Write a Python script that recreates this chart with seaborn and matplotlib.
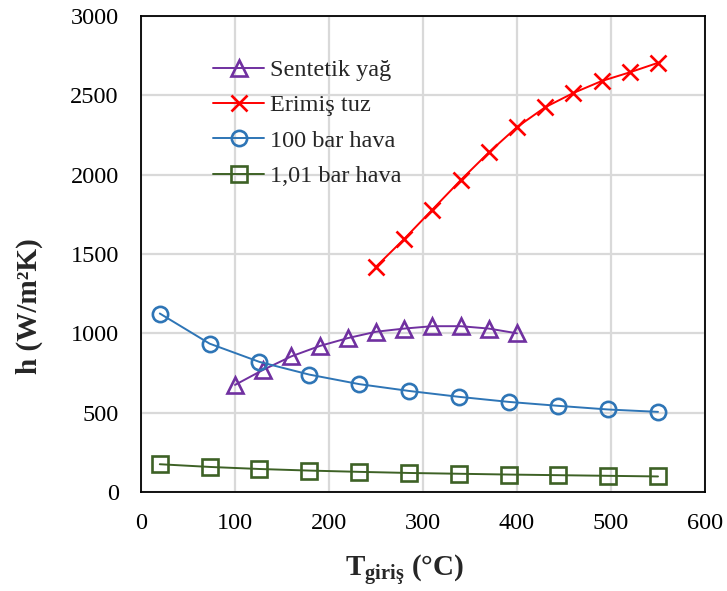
import matplotlib
matplotlib.use("Agg")
import matplotlib.pyplot as plt
import seaborn as sns
import pandas as pd

# Heat transfer coefficient vs. inlet temperature for four working fluids
x_sentetik = [100, 130, 160, 190, 220, 250, 280, 310, 340, 370, 400]
h_sentetik = [675, 770, 855, 920, 970, 1010, 1030, 1045, 1045, 1030, 1000]

x_tuz = [250, 280, 310, 340, 370, 400, 430, 460, 490, 520, 550]
h_tuz = [1420, 1595, 1780, 1965, 2140, 2300, 2425, 2515, 2590, 2645, 2705]

x_hava = [20, 73, 126, 179, 232, 285, 338, 391, 444, 497, 550]
h_hava100 = [1125, 935, 820, 740, 680, 637, 600, 568, 543, 520, 505]
h_hava1 = [175, 158, 145, 135, 127, 120, 115, 110, 106, 102, 98]

labels = ["Sentetik yağ", "Erimiş tuz", "100 bar hava", "1,01 bar hava"]
colors = ["#7030A0", "#FF0000", "#2E75B6", "#3D6125"]
markers = ["^", "x", "o", "s"]

x_ticks = [0, 100, 200, 300, 400, 500, 600]
y_ticks = [0, 500, 1000, 1500, 2000, 2500, 3000]

sns.set_theme(style="white")
plt.rcParams["font.family"] = ["Liberation Serif", "DejaVu Serif"]
plt.rcParams["mathtext.fontset"] = "custom"
plt.rcParams["mathtext.rm"] = "Liberation Serif"
plt.rcParams["mathtext.bf"] = "Liberation Serif:bold"
plt.rcParams["mathtext.it"] = "Liberation Serif:italic"

fig = plt.figure(figsize=(7.27, 5.91), dpi=100)
ax = fig.add_axes([141 / 727, 1 - 492 / 591, (705 - 141) / 727, (492 - 16) / 591])

series = [
    (x_sentetik, h_sentetik),
    (x_tuz, h_tuz),
    (x_hava, h_hava100),
    (x_hava, h_hava1),
]

for (xs, ys), lab, col, mk in zip(series, labels, colors, markers):
    df = pd.DataFrame({"T": xs, "h": ys})
    sns.lineplot(
        data=df, x="T", y="h", ax=ax, color=col, linewidth=1.4,
        marker=mk, markersize=11,
        markerfacecolor="none" if mk != "x" else col,
        markeredgecolor=col, markeredgewidth=1.9, label=lab,
    )

ax.set_xlim(0, 600)
ax.set_ylim(0, 3000)
ax.set_xticks(x_ticks)
ax.set_yticks(y_ticks)
ax.set_xticklabels([str(v) for v in x_ticks])
ax.set_yticklabels([str(v) for v in y_ticks])
ax.tick_params(axis="both", length=0, labelsize=17.5, colors="black")
ax.tick_params(axis="x", pad=15)
ax.tick_params(axis="y", pad=16)
ax.grid(True, color="#D9D9D9", linewidth=1.6)
ax.set_axisbelow(True)
for sp in ax.spines.values():
    sp.set_color("black")
    sp.set_linewidth(1.3)

ax.set_xlabel("")
ax.set_ylabel("")
fig.text(29 / 727, 1 - 306 / 591, "h (W/m²K)", rotation=90, ha="center",
         va="center", fontsize=21, fontweight="bold")
fig.text(405 / 727, 1 - 570 / 591, r"$\mathbf{T}_{\mathbf{giriş}}$ (°C)",
         ha="center", va="center", fontsize=21, fontweight="bold")

leg = ax.legend(
    loc="upper left", bbox_to_anchor=(213 / 727, 1 - 59 / 591),
    bbox_transform=fig.transFigure, frameon=False, fontsize=17.5,
    borderpad=0, borderaxespad=0, handlelength=2.1, handletextpad=0.25,
    labelspacing=0.55,
)

fig.savefig("out.png", dpi=100, facecolor="white")
